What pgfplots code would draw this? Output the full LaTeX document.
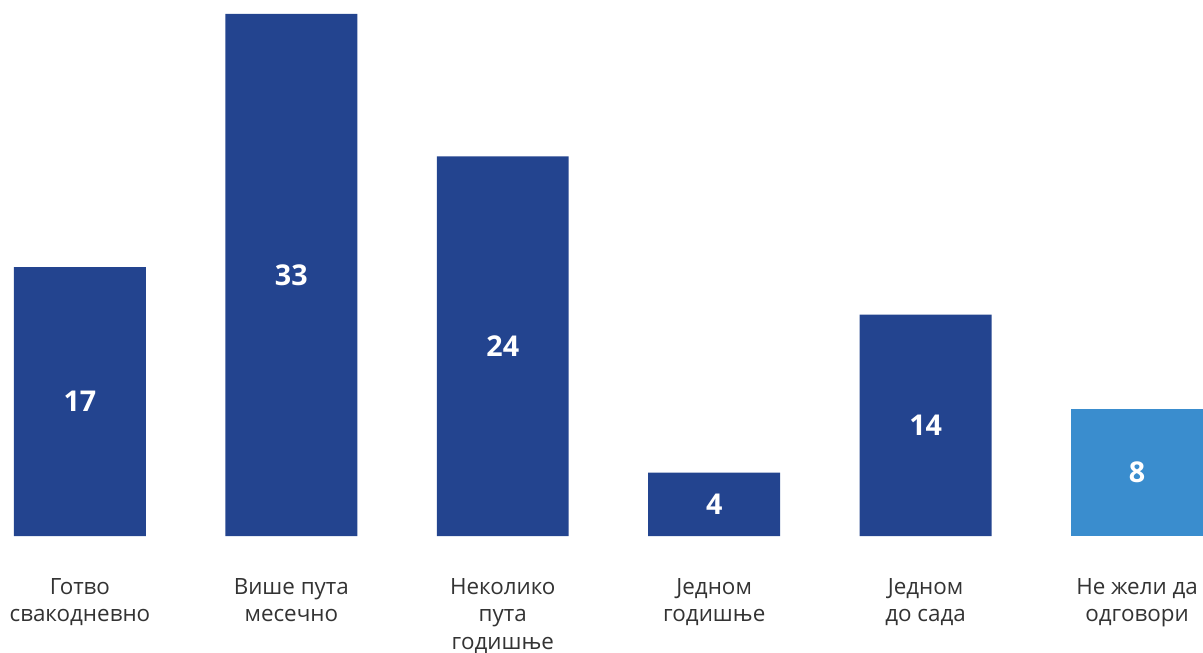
\documentclass[border=0pt]{standalone}
\usepackage{pgfplots}
\pgfplotsset{compat=1.18}
\usepackage{fontspec}
\setmainfont{Open Sans}
\definecolor{darkbar}{HTML}{23448F}
\definecolor{lightbar}{HTML}{3A8DCE}
\definecolor{labelgray}{HTML}{333333}
\begin{document}
\begin{tikzpicture}
\useasboundingbox (0,-87.75pt) rectangle (902.25pt,402pt);
\begin{axis}[
  at={(0,0)}, anchor=south west,
  scale only axis,
  width=902.25pt, height=391.5pt,
  xmin=-0.378, xmax=5.312,
  ymin=0, ymax=33,
  axis line style={draw=none},
  tick style={draw=none},
  ytick=\empty,
  xtick={0,1,2,3,4,5},
  xticklabels={{Готво\\свакодневно},{Више пута\\месечно},{Неколико\\пута\\годишње},{Једном\\годишње},{Једном\\до сада},{Не жели да\\одговори}},
  xticklabel style={align=center, anchor=north, yshift=-24pt, text=labelgray, font=\fontsize{16.8}{20.6}\selectfont},
  ybar, bar width=0.624, bar shift=0pt,
  clip=false,
]
\addplot[fill=darkbar, draw=none] coordinates {(0,17) (1,33) (2,24) (3,4) (4,14)};
\addplot[fill=lightbar, draw=none] coordinates {(5,8)};
\addplot[draw=none, fill=none, mark=none, nodes near coords, point meta=explicit symbolic,
  every node near coord/.append style={anchor=center, text=white, font=\fontsize{21.5}{24}\selectfont\bfseries}]
  coordinates {(0,8.5) [17] (1,16.5) [33] (2,12) [24] (3,2) [4] (4,7) [14] (5,4) [8]};
\end{axis}
\end{tikzpicture}
\end{document}
